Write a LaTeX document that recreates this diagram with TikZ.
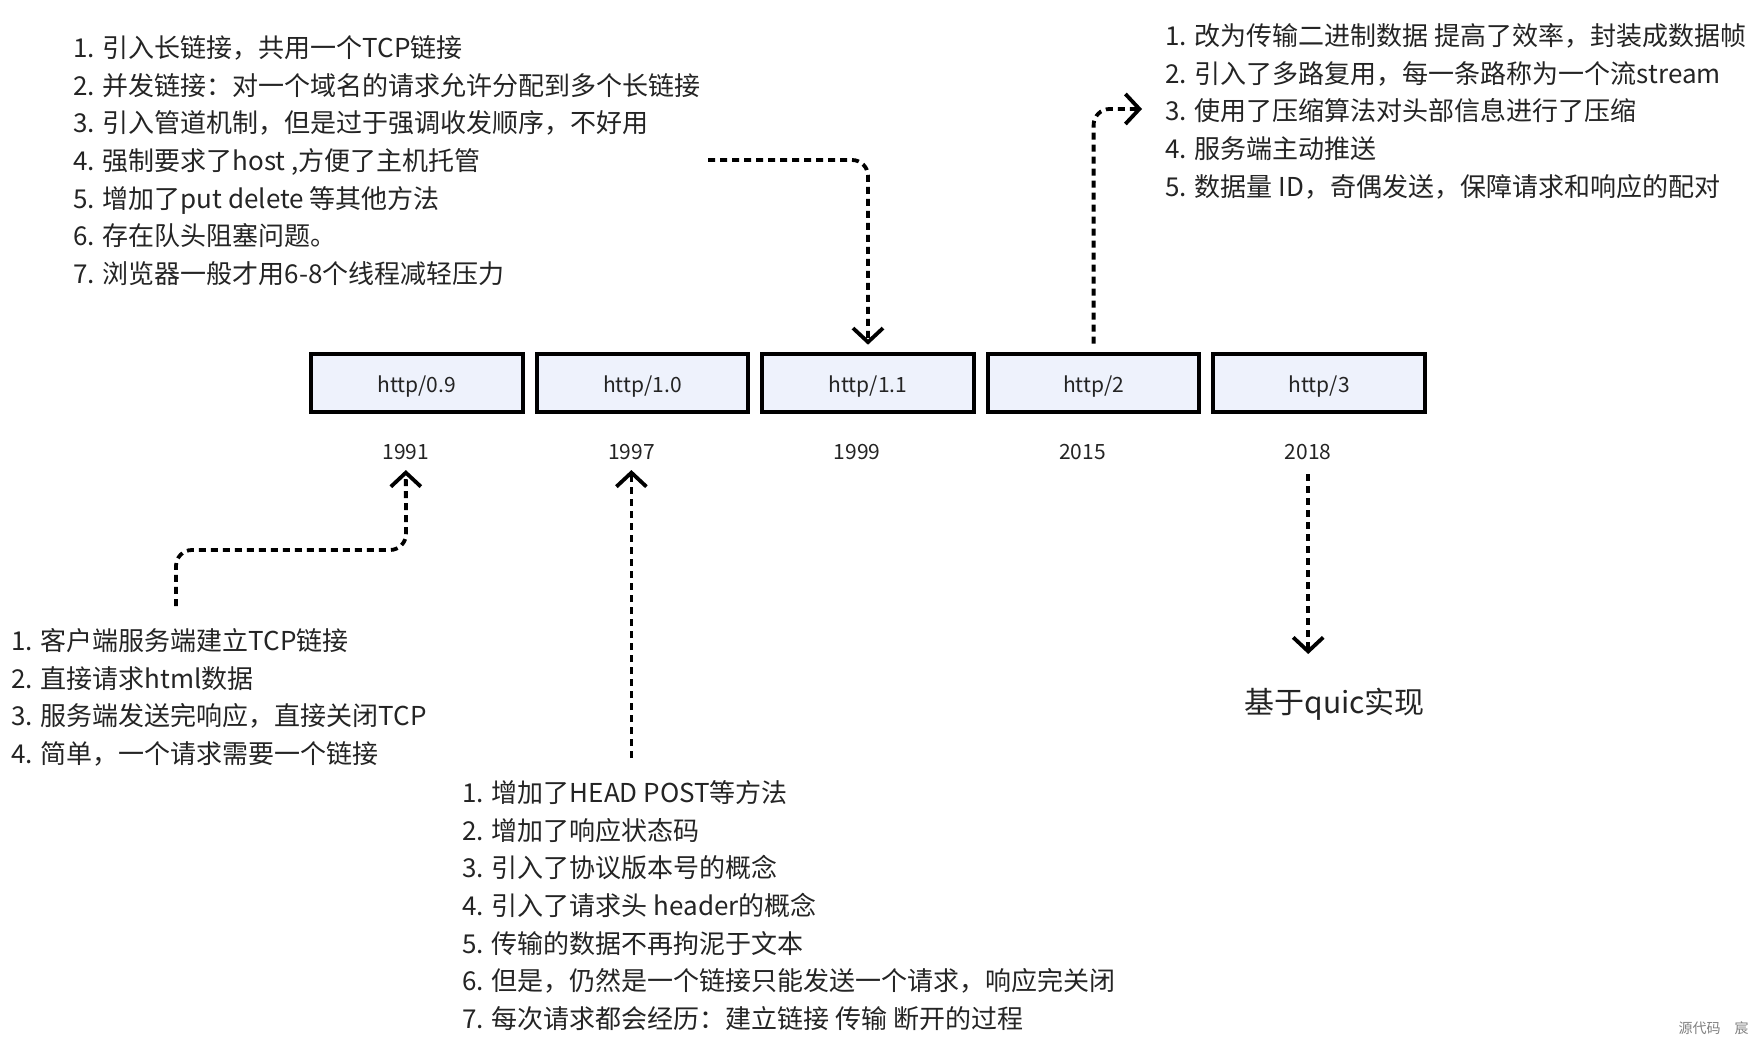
\documentclass[tikz,border=0pt]{standalone}
\usepackage{fontspec}
\setmainfont{Noto Sans CJK SC}
\usetikzlibrary{arrows.meta,positioning}
\definecolor{boxfill}{RGB}{238,242,252}
\definecolor{inkgray}{RGB}{36,36,36}

\begin{document}
\begin{tikzpicture}[x=0.5pt,y=-0.5pt,
    verbox/.style={draw=black, line width=2pt, fill=boxfill, minimum width=105.8pt, minimum height=29.3pt, inner sep=0pt, text height=9.5pt, text depth=0pt, text=inkgray, font=\fontsize{10.5}{12}\selectfont},
    year/.style={inner sep=0pt, text=inkgray, font=\fontsize{10.5}{12}\selectfont},
    notes/.style={anchor=north west, align=left, inner sep=0pt, text=inkgray, font=\fontsize{13}{18.85}\selectfont},
    flow/.style={line width=1.9pt, dash pattern=on 3.5pt off 2.5pt, rounded corners=8pt, -{Straight Barb[length=7pt,width=15pt]}}]
    \path[use as bounding box] (0,0) rectangle (1761,1047);

    % versions and years
    \node[verbox] (v09) at (416.8,383) {http/0.9};
    \node[verbox, right=5pt of v09] (v10) {http/1.0};
    \node[verbox, right=5pt of v10] (v11) {http/1.1};
    \node[verbox, right=5pt of v11] (v2) {http/2};
    \node[verbox, right=5pt of v2] (v3) {http/3};
    \node[year] (y91) at ([xshift=-5.5pt,yshift=-18.8pt]v09.south) {1991};
    \node[year] (y97) at ([xshift=-5.5pt,yshift=-18.8pt]v10.south) {1997};
    \node[year] (y99) at ([xshift=-5.5pt,yshift=-18.8pt]v11.south) {1999};
    \node[year] (y15) at ([xshift=-5.5pt,yshift=-18.8pt]v2.south) {2015};
    \node[year] (y18) at ([xshift=-5.5pt,yshift=-18.8pt]v3.south) {2018};

    % notes
    \node[notes] (n11) at (73,35) {1. 引入长链接，共用一个TCP链接\\2. 并发链接：对一个域名的请求允许分配到多个长链接\\3. 引入管道机制，但是过于强调收发顺序，不好用\\4. 强制要求了host ,方便了主机托管\\5. 增加了put delete 等其他方法\\6. 存在队头阻塞问题。\\7. 浏览器一般才用6-8个线程减轻压力};
    \node[notes] (n2) at (1165,23) {1. 改为传输二进制数据 提高了效率，封装成数据帧\\2. 引入了多路复用，每一条路称为一个流stream\\3. 使用了压缩算法对头部信息进行了压缩\\4. 服务端主动推送\\5. 数据量 ID，奇偶发送，保障请求和响应的配对};
    \node[notes] (n09) at (11,628) {1. 客户端服务端建立TCP链接\\2. 直接请求html数据\\3. 服务端发送完响应，直接关闭TCP\\4. 简单，一个请求需要一个链接};
    \node[notes] (n10) at (462,780) {1. 增加了HEAD POST等方法\\2. 增加了响应状态码\\3. 引入了协议版本号的概念\\4. 引入了请求头 header的概念\\5. 传输的数据不再拘泥于文本\\6. 但是，仍然是一个链接只能发送一个请求，响应完关闭\\7. 每次请求都会经历：建立链接 传输 断开的过程};
    \node[anchor=west, inner sep=0pt, text=inkgray, font=\fontsize{15}{18}\selectfont] (n3) at (1244,704) {基于quic实现};
    \node[anchor=east, inner sep=0pt, text=gray, font=\fontsize{7}{8}\selectfont] (mark) at (1749,1028) {源代码\hspace{1em}宸};

    % connectors
    \coordinate (s91) at (176,606);
    \coordinate (k91) at (406,550);
    \coordinate (s97) at (631,758);
    \coordinate (s11) at (708,160);
    \coordinate (e2) at (1142,109);
    \coordinate (e18) at (1306,654);
    \draw[flow, shorten >=5pt] (s91) |- (k91) -- (y91.south);
    \draw[flow, shorten >=5pt] (y97.south |- s97) -- (y97.south);
    \draw[flow, shorten >=3.5pt] (s11) -| (v11.north);
    \draw[flow, shorten <=4pt] (v2.north) |- (e2);
    \draw[flow, shorten <=7pt] (y18.south) -- (y18.south |- e18);
\end{tikzpicture}
\end{document}
